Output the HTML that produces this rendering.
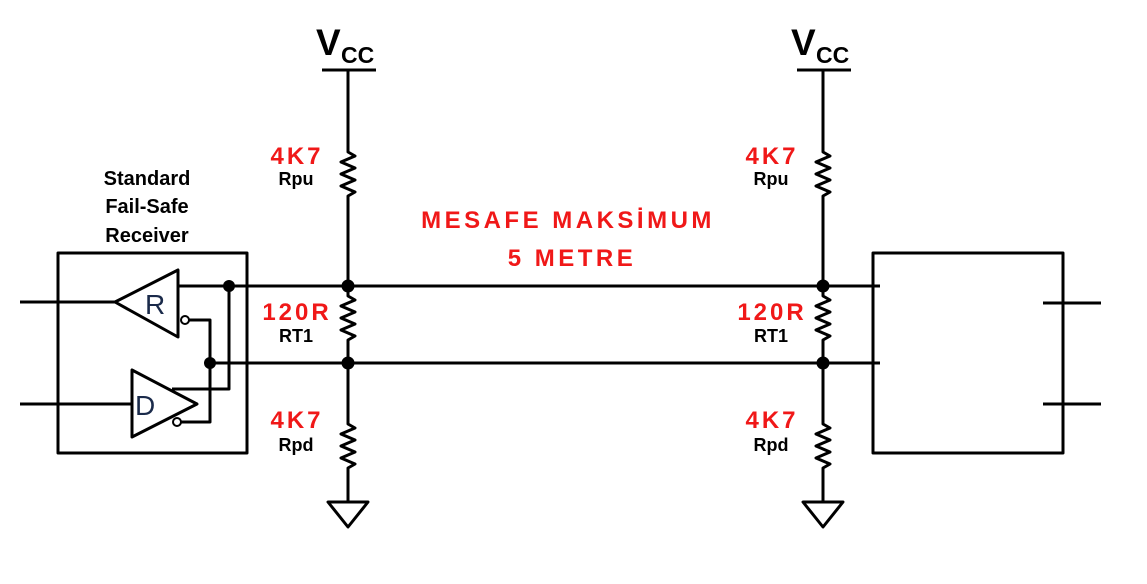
<!DOCTYPE html>
<html><head><meta charset="utf-8"><style>
html,body{margin:0;padding:0;background:#fff;}
svg{display:block;}
text{font-family:"Liberation Sans",Arial,sans-serif;font-weight:bold;}
.r{fill:#f01818;}
</style></head><body>
<svg width="1147" height="584" viewBox="0 0 1147 584" xmlns="http://www.w3.org/2000/svg">
<g stroke="#000" stroke-width="3" fill="none" stroke-linejoin="round">
<rect x="58" y="253" width="189" height="200"/>
<path d="M178,270 L178,337 L115,302 Z"/>
<line x1="20" y1="302" x2="115" y2="302"/>
<line x1="178" y1="286" x2="880" y2="286"/>
<circle cx="185" cy="320" r="4" stroke-width="2"/>
<polyline points="189,320 210,320 210,363"/>
<path d="M132,370 L132,437 L197,404 Z"/>
<line x1="20" y1="404" x2="132" y2="404"/>
<polyline points="229,286 229,389 172,389"/>
<circle cx="177" cy="422" r="4" stroke-width="2"/>
<polyline points="181,422 210,422 210,363"/>
<line x1="210" y1="363" x2="880" y2="363"/>
<rect x="873" y="253" width="190" height="200"/>
<line x1="1043" y1="303" x2="1101" y2="303"/>
<line x1="1043" y1="404" x2="1101" y2="404"/>
</g>
<g id="col" stroke="#000" stroke-width="3" fill="none" stroke-linejoin="round">
<line x1="322" y1="70" x2="376" y2="70"/>
<polyline points="348,70 348,150 348,152 355,156 341,162 355,168 341,174 355,180 341,186 355,192 348,196 348,286"/>
<polyline points="348,286 348,296 355,300 341,306 355,312 341,318 355,324 341,330 355,336 348,340 348,363"/>
<polyline points="348,363 348,424 355,428 341,434 355,440 341,446 355,452 341,458 355,464 348,468 348,502"/>
<path d="M328,502 L368,502 L348,527 Z"/>
</g>
<use href="#col" x="475"/>
<g fill="#000">
<circle cx="229" cy="286" r="6"/>
<circle cx="210" cy="363" r="6"/>
<circle cx="348" cy="286" r="6.5"/>
<circle cx="348" cy="363" r="6.5"/>
<circle cx="823" cy="286" r="6.5"/>
<circle cx="823" cy="363" r="6.5"/>
</g>
<g font-size="28" fill="#1a2a4a">
<text x="145" y="314" style="font-weight:normal">R</text>
<text x="135" y="415" style="font-weight:normal">D</text>
</g>
<g text-anchor="middle" font-size="20">
<text x="147" y="185">Standard</text>
<text x="147" y="213">Fail-Safe</text>
<text x="147" y="242">Receiver</text>
</g>
<g>
<text x="316" y="55" font-size="37">V</text><text x="341" y="63" font-size="23">CC</text>
<text x="791" y="55" font-size="37">V</text><text x="816" y="63" font-size="23">CC</text>
</g>
<g text-anchor="middle">
<text class="r" x="297" y="164" font-size="24" letter-spacing="3">4K7</text>
<text x="296" y="185" font-size="18">Rpu</text>
<text class="r" x="297" y="320" font-size="24" letter-spacing="3">120R</text>
<text x="296" y="342" font-size="18">RT1</text>
<text class="r" x="297" y="428" font-size="24" letter-spacing="3">4K7</text>
<text x="296" y="451" font-size="18">Rpd</text>
<text class="r" x="772" y="164" font-size="24" letter-spacing="3">4K7</text>
<text x="771" y="185" font-size="18">Rpu</text>
<text class="r" x="772" y="320" font-size="24" letter-spacing="3">120R</text>
<text x="771" y="342" font-size="18">RT1</text>
<text class="r" x="772" y="428" font-size="24" letter-spacing="3">4K7</text>
<text x="771" y="451" font-size="18">Rpd</text>
<text class="r" x="568" y="228" font-size="24" letter-spacing="3.5">MESAFE MAKSİMUM</text>
<text class="r" x="572" y="266" font-size="24" letter-spacing="3.5">5 METRE</text>
</g>
</svg>
</body></html>
